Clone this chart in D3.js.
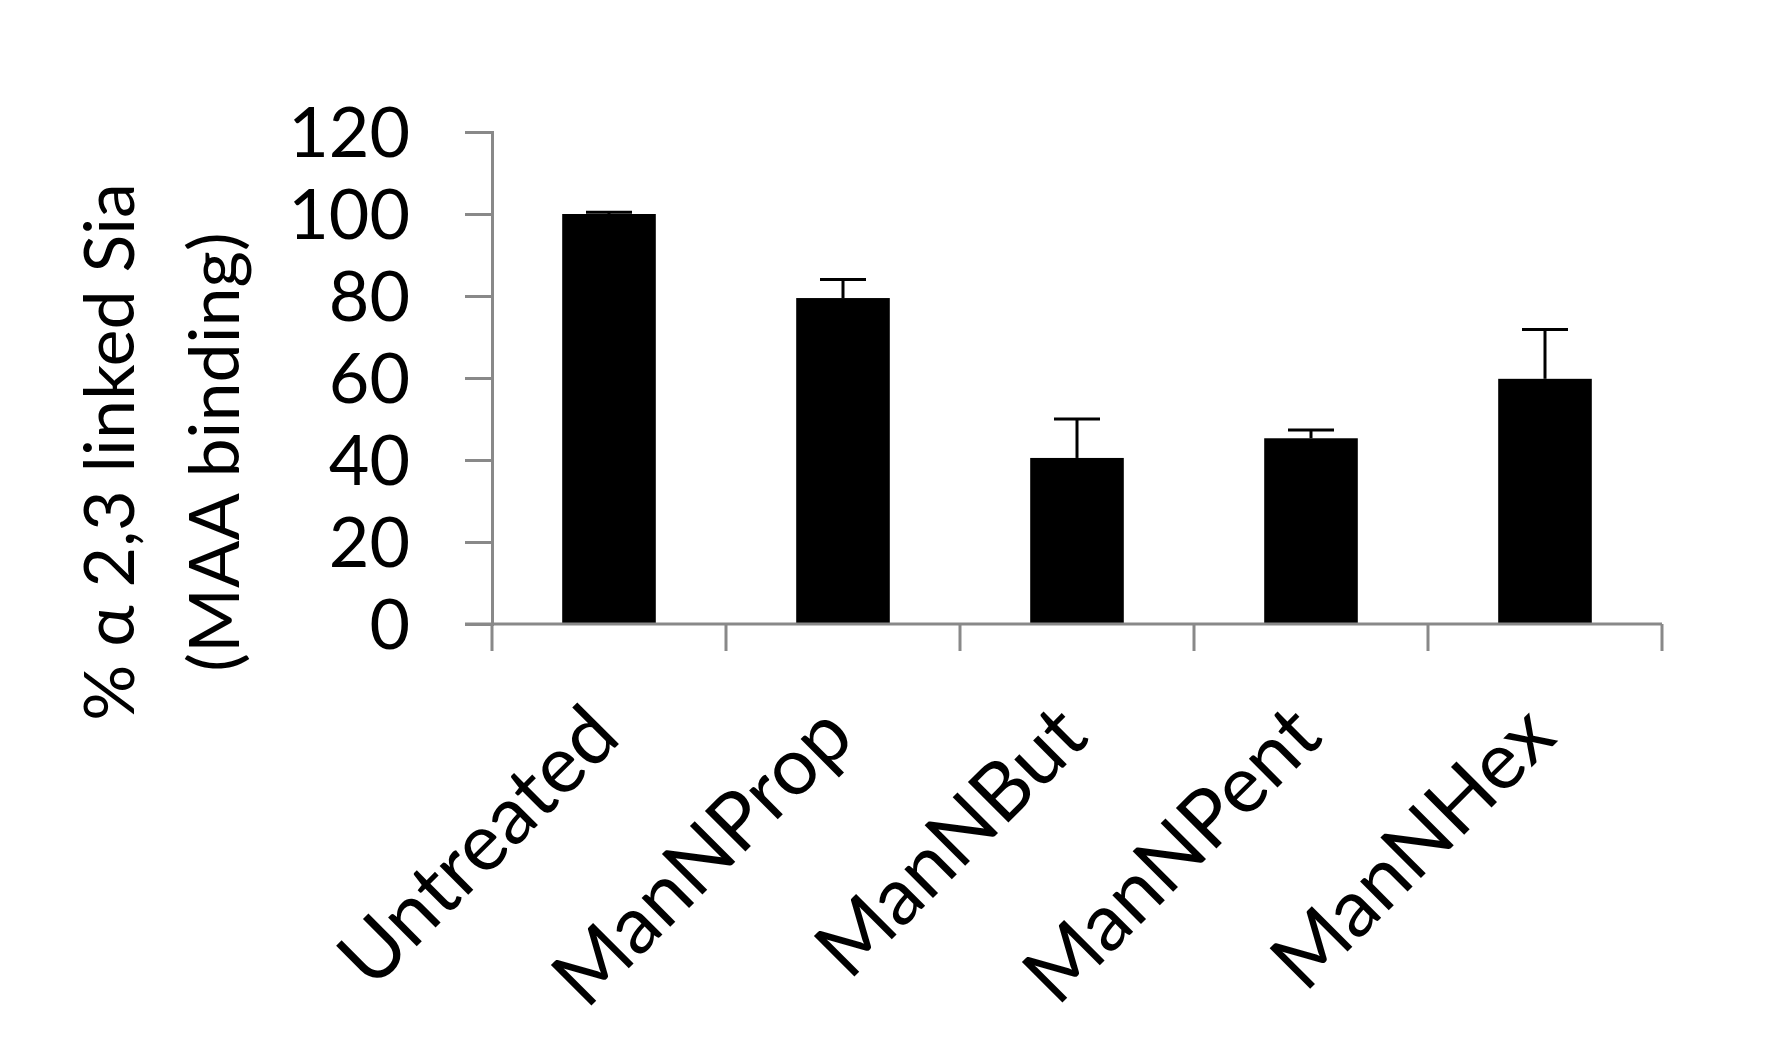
<!DOCTYPE html><html><head><meta charset="utf-8"><script src="https://cdn.jsdelivr.net/npm/d3@7"></script>
<style>body{margin:0;background:#fff}text{font-family:Lato,"Open Sans",sans-serif}</style></head><body><svg id="c" width="1792" height="1040"></svg>
<script>
const categories=["Untreated","ManNProp","ManNBut","ManNPent","ManNHex"];
const values=[100,79.5,40.5,45.3,59.8];
const errors=[0.4,4.5,9.5,2,12];
const yTicks=[0,20,40,60,80,100,120];
const svg=d3.select("#c");
const x0=492,x1=1662;
const x=d3.scaleBand().domain(categories).range([x0,x1]).paddingInner(0.6).paddingOuter(0.3);
const y=d3.scaleLinear().domain([0,120]).range([624,132]);
const grey="#898989";
const ya=svg.append("g").attr("transform",`translate(${x0},0)`).call(d3.axisLeft(y).tickValues(yTicks).tickSize(27).tickPadding(55));
ya.select(".domain").attr("stroke",grey).attr("stroke-width",3);
ya.selectAll(".tick line").attr("stroke",grey).attr("stroke-width",3);
ya.selectAll("text").attr("font-size",70).attr("fill","#000").attr("dy","0.35em");
svg.selectAll(".bar").data(categories).enter().append("rect").attr("x",d=>x(d)).attr("width",x.bandwidth())
 .attr("y",(d,i)=>y(values[i])).attr("height",(d,i)=>y(0)-y(values[i])).attr("fill","#000");
const cap=23;
categories.forEach((c,i)=>{const cx=x(c)+x.bandwidth()/2;
 svg.append("line").attr("x1",cx).attr("x2",cx).attr("y1",y(values[i])).attr("y2",y(values[i]+errors[i])).attr("stroke","#000").attr("stroke-width",3);
 svg.append("line").attr("x1",cx-cap).attr("x2",cx+cap).attr("y1",y(values[i]+errors[i])).attr("y2",y(values[i]+errors[i])).attr("stroke","#000").attr("stroke-width",3);
});
const step=(x1-x0)/5;
const xa=svg.append("g");
xa.append("line").attr("x1",465).attr("x2",x1).attr("y1",624).attr("y2",624).attr("stroke",grey).attr("stroke-width",3);
d3.range(6).forEach(k=>xa.append("line").attr("x1",x0+k*step).attr("x2",x0+k*step).attr("y1",624).attr("y2",651).attr("stroke",grey).attr("stroke-width",3));
categories.forEach(c=>{const cx=x(c)+x.bandwidth()/2;
 svg.append("text").attr("transform",`translate(${cx+14},${740}) rotate(-45)`).attr("text-anchor","end").attr("font-size",80).text(c);});
const t=svg.append("text").attr("transform","translate(165,452) rotate(-90)").attr("text-anchor","middle").attr("font-size",70);
t.append("tspan").attr("x",0).attr("dy","-0.45em").text("% α 2,3 linked Sia");
t.append("tspan").attr("x",0).attr("dy","1.5em").text("(MAA binding)");
</script></body></html>
